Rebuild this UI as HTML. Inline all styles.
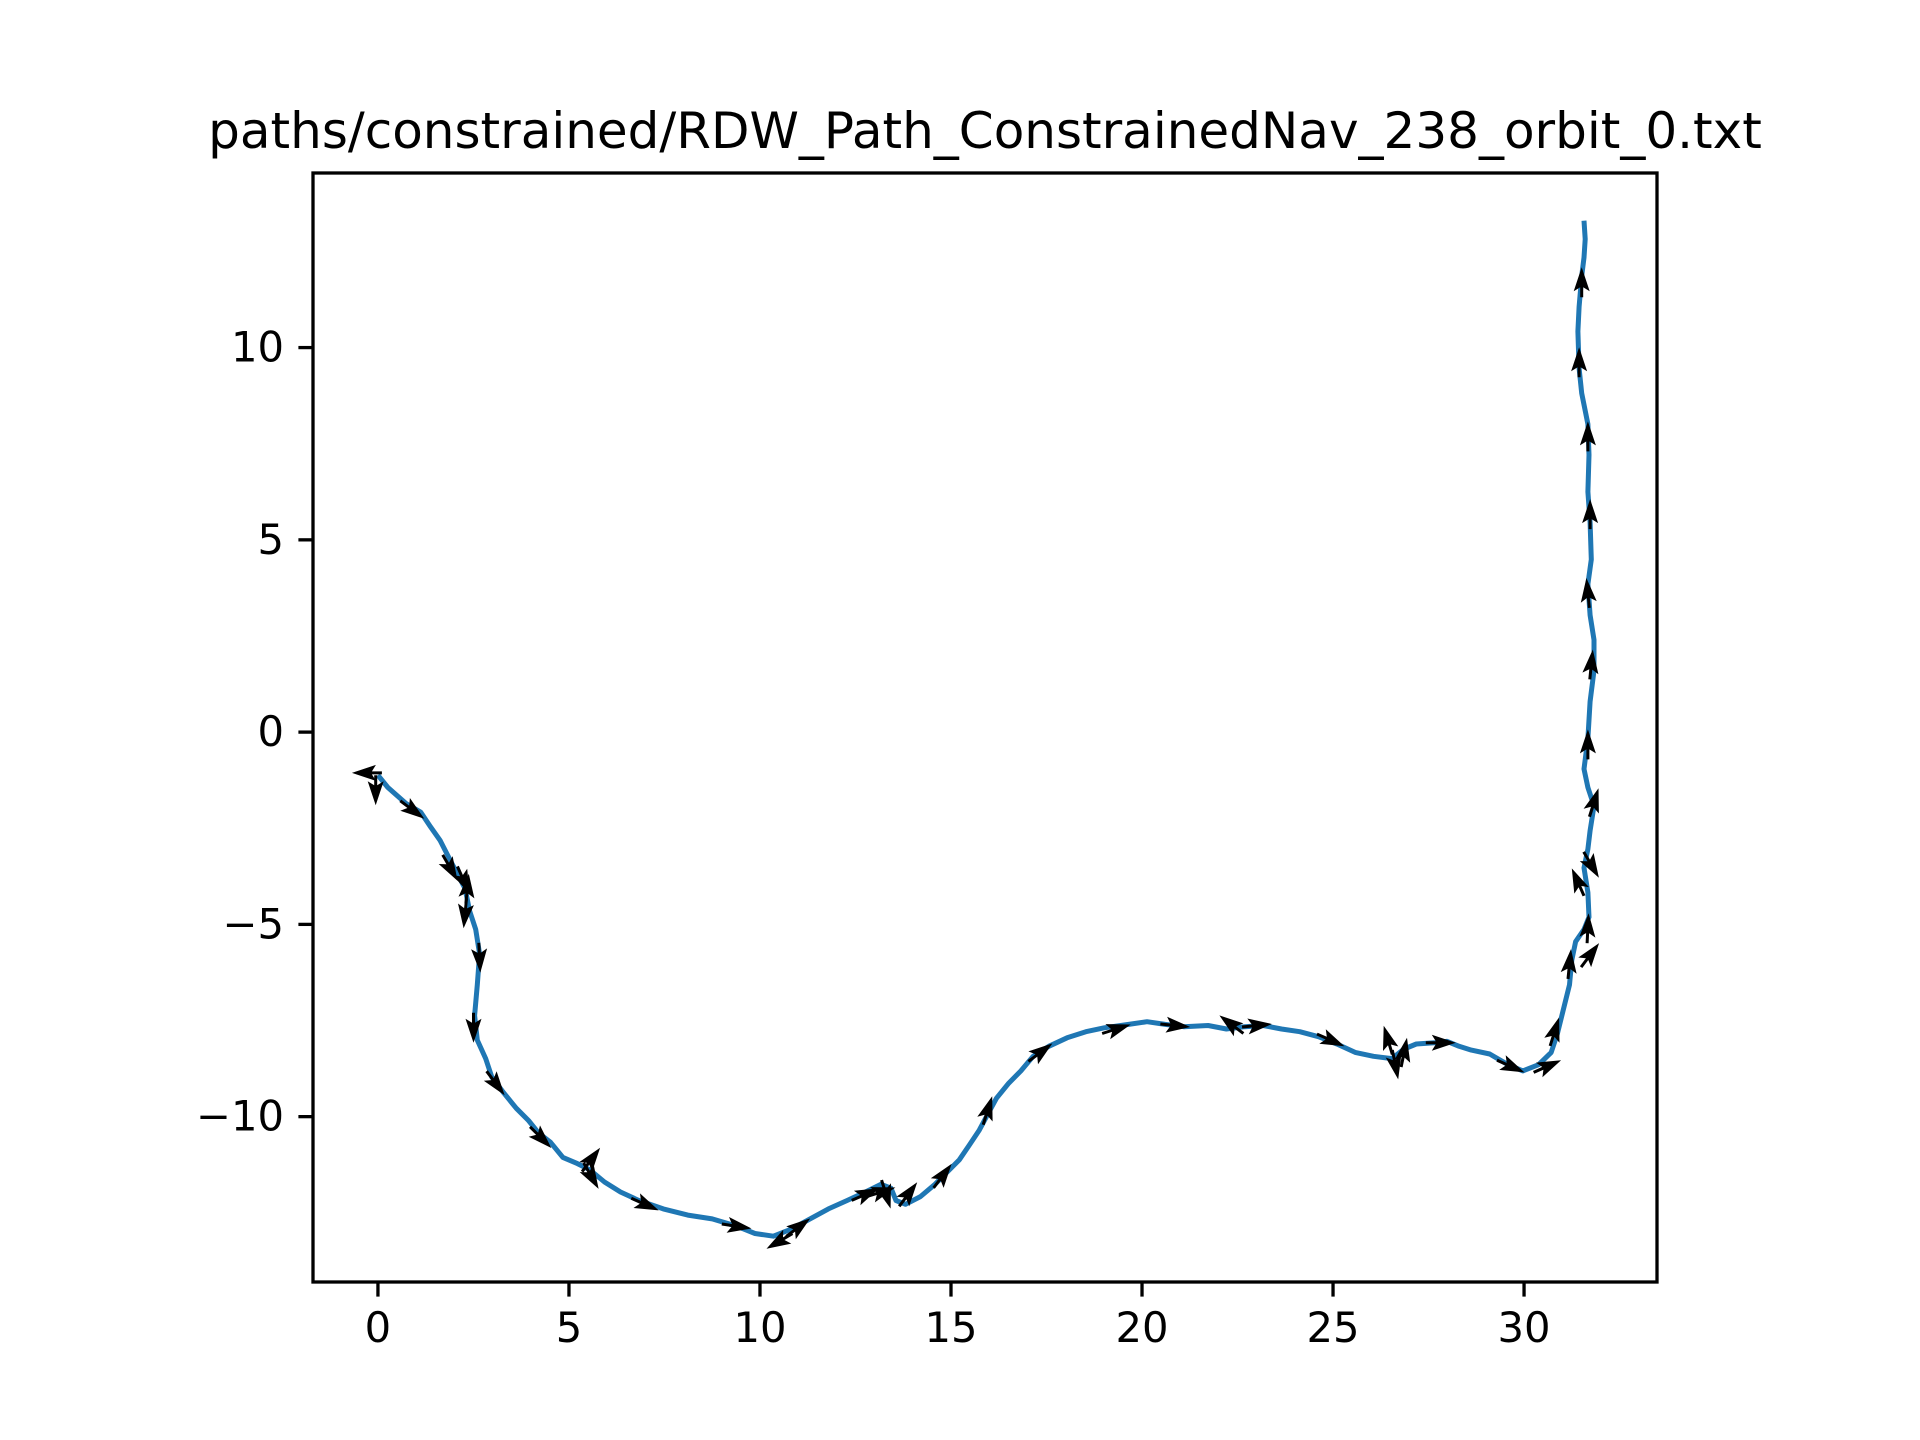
<!DOCTYPE html>
<html><head><meta charset="utf-8"><style>
html,body{margin:0;padding:0;background:#fff;}
svg{display:block;}
text{font-family:"DejaVu Sans","Liberation Sans",sans-serif;fill:#000;}
</style></head><body>
<svg id="chart" width="1920" height="1440" viewBox="0 0 1920 1440" xmlns="http://www.w3.org/2000/svg">
<rect width="1920" height="1440" fill="#fff"/>
<text x="985" y="148" font-size="50" text-anchor="middle">paths/constrained/RDW_Path_ConstrainedNav_238_orbit_0.txt</text>
<g id="plot"></g>
<rect x="313" y="173" width="1344" height="1109" fill="none" stroke="#000" stroke-width="3.3"/>
<g id="axes"></g>
</svg>
<script>
const pathX=[0,0.26,0.74,1.12,1.38,1.63,1.86,2.08,2.28,2.40,2.56,2.66,2.60,2.53,2.60,2.82,2.98,3.30,3.62,3.94,4.20,4.52,4.84,5.22,5.54,5.93,6.35,6.83,7.47,8.11,8.75,9.39,9.87,10.35,10.83,11.31,11.79,12.28,12.76,13.17,13.43,13.56,13.81,14.20,14.58,14.90,15.22,15.48,15.74,15.96,16.19,16.51,16.83,17.15,17.56,18.04,18.53,19.01,19.65,20.13,20.61,21.09,21.73,22.21,22.69,23.17,23.65,24.13,24.62,25.10,25.58,26.06,26.54,26.86,27.18,27.66,27.98,28.30,28.62,29.10,29.58,29.97,30.38,30.71,30.87,31.03,31.19,31.25,31.35,31.57,31.70,31.67,31.57,31.67,31.73,31.83,31.67,31.57,31.67,31.73,31.83,31.83,31.73,31.67,31.76,31.73,31.67,31.70,31.67,31.51,31.44,31.41,31.44,31.51,31.57,31.60,31.57];
const pathY=[-1.12,-1.44,-1.86,-2.08,-2.47,-2.82,-3.27,-3.69,-4.07,-4.65,-5.13,-5.77,-6.57,-7.37,-8.01,-8.49,-8.97,-9.39,-9.78,-10.10,-10.42,-10.67,-11.06,-11.22,-11.38,-11.70,-11.96,-12.18,-12.40,-12.56,-12.66,-12.85,-13.04,-13.11,-12.92,-12.66,-12.40,-12.18,-11.96,-11.76,-11.86,-12.18,-12.28,-12.08,-11.76,-11.44,-11.12,-10.74,-10.35,-9.94,-9.52,-9.13,-8.81,-8.43,-8.17,-7.95,-7.79,-7.69,-7.60,-7.53,-7.60,-7.66,-7.63,-7.72,-7.66,-7.63,-7.72,-7.79,-7.92,-8.11,-8.33,-8.43,-8.49,-8.24,-8.11,-8.08,-8.04,-8.17,-8.27,-8.37,-8.65,-8.81,-8.65,-8.33,-7.85,-7.21,-6.57,-5.93,-5.45,-5.13,-4.81,-4.17,-3.53,-3.04,-2.56,-1.92,-1.44,-0.96,-0.16,0.80,1.60,2.40,3.04,3.85,4.49,5.45,6.25,7.21,8.01,8.81,9.46,10.42,11.06,11.86,12.34,12.82,13.30];
const arrowX=[-0.29,-0.06,0.9,1.89,2.24,2.34,2.28,2.66,2.5,3.08,4.26,5.58,5.58,6.99,9.39,10.51,11.0,12.76,13.17,13.3,13.88,14.78,15.96,17.34,19.33,20.87,22.34,23.01,24.94,26.44,26.63,26.86,27.82,29.65,30.61,30.8,31.19,31.73,31.67,31.76,31.41,31.83,31.67,31.76,31.67,31.73,31.67,31.44,31.51];
const arrowY=[-1.06,-1.51,-2.02,-3.53,-3.85,-4.07,-4.71,-5.87,-7.69,-9.13,-10.54,-11.12,-11.54,-12.28,-12.85,-13.24,-12.88,-12.02,-11.96,-12.02,-12.02,-11.54,-9.84,-8.33,-7.72,-7.63,-7.6,-7.63,-8.01,-8.01,-8.65,-8.33,-8.08,-8.69,-8.69,-7.79,-6.03,-5.8,-5.1,-3.45,-3.9,-1.83,-0.32,1.76,3.62,5.67,7.69,9.62,11.7];
const arrowU=[-1,0,0.8,0.5,0.4,0.1,-0.1,0.05,0,0.6,0.7,0.6,0.5,0.9,1,-0.85,0.8,0.9,0.95,0.3,0.6,0.6,0.3,0.8,0.95,1,-0.8,1,0.9,-0.3,0.2,0.2,1,0.9,0.9,0.3,0.1,0.6,0.05,0.5,-0.4,0.3,0,0.1,-0.1,0,0,0,0];
const arrowV=[0,-1,-0.6,-0.87,-0.9,1,-1,-1,-1,-0.8,-0.7,0.8,-0.87,-0.4,-0.15,-0.5,0.6,0.4,0.3,-0.95,0.8,0.8,0.95,0.6,0.3,-0.1,0.6,0.1,-0.4,1,-1,1,0,-0.4,0.4,0.95,1,0.8,1,-0.85,0.9,0.95,1,1,1,1,1,1,1];
const xTicks=[0,5,10,15,20,25,30];
const yTicks=[10,5,0,-5,-10];
const yTickLabels=["10","5","0","\u22125","\u221210"];

const NS="http://www.w3.org/2000/svg";
const L=313,R=1657,T=173,B=1282;
const xMin=-1.70,xMax=33.48,yMin=-14.30,yMax=14.54;
function sx(v){return L+(v-xMin)/(xMax-xMin)*(R-L);}
function sy(v){return B-(v-yMin)/(yMax-yMin)*(B-T);}
function mk(tag,attrs,parent){const e=document.createElementNS(NS,tag);for(const k in attrs)e.setAttribute(k,attrs[k]);parent.appendChild(e);return e;}
const plot=document.getElementById('plot');
const axes=document.getElementById('axes');

let d=pathX.map((x,i)=>(i?'L':'M')+sx(x).toFixed(1)+' '+sy(pathY[i]).toFixed(1)).join(' ');
const line=mk('path',{d:d,fill:'none',stroke:'#1f77b4','stroke-width':5,'stroke-linejoin':'round','stroke-linecap':'butt'},plot);



arrowX.forEach((x,i)=>{
  let u=arrowU[i],v=-arrowV[i];const n=Math.hypot(u,v)||1;u/=n;v/=n;
  const cx=sx(x),cy=sy(arrowY[i]);
  const len=30,hl=24,hal=20,hw=8,sw=1.5;
  const tx=cx-u*len/2,ty=cy-v*len/2,hx=cx+u*len/2,hy=cy+v*len/2;
  const bx=hx-u*hl,by=hy-v*hl;const ax=hx-u*hal,ay=hy-v*hal;const px=-v,py=u;
  const pts=[[tx+px*sw,ty+py*sw],[ax+px*sw,ay+py*sw],[bx+px*hw,by+py*hw],[hx,hy],[bx-px*hw,by-py*hw],[ax-px*sw,ay-py*sw],[tx-px*sw,ty-py*sw]];
  const a=mk('polygon',{points:pts.map(p=>p[0].toFixed(1)+','+p[1].toFixed(1)).join(' '),fill:'#000'},plot);
  
  
});

xTicks.forEach(t=>{
  const x=sx(t);
  const tk=mk('line',{x1:x,x2:x,y1:B,y2:B+14.6,stroke:'#000','stroke-width':3.3},axes);
  
  
  const tl=mk('text',{x:x,y:1342,'font-size':41.7,'text-anchor':'middle'},axes);
  tl.textContent=String(t);
  
  
});
yTicks.forEach((t,i)=>{
  const y=sy(t);
  const tk=mk('line',{x1:L-14.6,x2:L,y1:y,y2:y,stroke:'#000','stroke-width':3.3},axes);
  
  
  const tl=mk('text',{x:284,y:y+14,'font-size':41.7,'text-anchor':'end'},axes);
  tl.textContent=yTickLabels[i];
  
  
});
</script>
</body></html>
